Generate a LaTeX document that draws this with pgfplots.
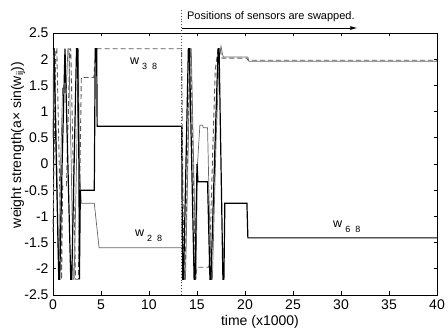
\documentclass[border=0pt]{standalone}
\usepackage{pgfplots}
\pgfplotsset{compat=1.18}
\usepackage{fontspec}
\setmainfont{Liberation Sans}
\usetikzlibrary{arrows.meta,calc}

\begin{document}
\begin{tikzpicture}
\begin{axis}[
 scale only axis, width=384pt, height=262pt,
 xmin=0, xmax=40, ymin=-2.5, ymax=2.5,
 xtick={0,5,10,15,20,25,30,35,40},
 ytick={-2.5,-2,-1.5,-1,-0.5,0,0.5,1,1.5,2,2.5},
 tick align=inside, major tick length=3.5pt,
 tick style={black, line width=0.6pt},
 axis line style={line width=0.8pt},
 clip=false,
 /pgf/number format/assume math mode=true,
 tick label style={font=\fontsize{14}{16}\selectfont},
 xticklabel style={yshift=-1pt},
 yticklabel style={xshift=-1pt},
 xlabel={time (x1000)},
 ylabel={weight strength(a× sin(w\textsubscript{ij}))},
 label style={font=\fontsize{14}{16}\selectfont},
 xlabel style={at={(axis description cs:0.539,-0.103)},anchor=center},
 ylabel style={at={(axis description cs:-0.091,0.573)},anchor=center},
]
% dashed series
\addplot[black!65, line width=0.9pt, dash pattern=on 5pt off 3pt] coordinates {
(0,-1.3)(0.1,0)(0.3,2.2)(0.4,2.2)(0.65,0)(0.9,-2.2)(1.0,-0.42)(1.4,-0.42)(1.6,1.0)(1.75,2.2)(1.85,2.2)(2.1,0)(2.35,-2.2)(2.45,-2.2)(2.65,-2.2)(2.95,1.65)(4.25,1.65)(4.45,2.2)(13.4,2.2)
(13.5,0)(13.65,-2.2)(13.75,-2.2)(14.0,0)(14.25,2.2)(14.35,2.2)(14.6,0)(14.85,-2.2)(15.0,-1.97)(16.2,-1.97)(16.3,-1.9)(16.6,0)(16.9,1.8)(17.2,2.2)(17.4,2.2)(17.6,2.02)(20.2,2.02)(20.3,1.98)(40,1.98)};
% thin gray series (w28)
\addplot[black!60, line width=0.7pt] coordinates {
(0,0.5)(0.05,2.2)(0.15,2.2)(0.4,0)(0.6,-2.2)(0.8,0)(1.0,1.45)(1.4,1.45)(1.55,2.2)(1.65,2.2)(1.9,0)(2.1,-2.2)(2.2,-2.2)(2.45,0)(2.65,2.2)(2.75,0)(2.95,-0.75)(4.3,-0.75)(4.8,-1.6)(13.4,-1.6)
(13.5,-1.7)(13.7,-2.2)(13.8,-2.2)(14.05,0)(14.3,2.2)(14.4,2.2)(14.65,0)(14.9,-2.2)(15.05,0)(15.3,0.74)(15.6,0.74)(15.65,0.69)(16.1,0.69)(16.3,-1.0)(16.5,-2.2)(16.6,-2.2)(17.0,0.5)(17.3,2.0)(17.5,2.25)(17.65,2.1)(17.75,2.04)(20.3,2.04)(20.4,1.96)(40,1.96)};
% thick black series
\addplot[black, line width=1.2pt] coordinates {
(0,2.2)(0.1,2.2)(0.35,0)(0.6,-2.2)(0.7,-2.2)(0.95,0)(1.25,2.2)(1.55,0)(1.85,-2.2)(1.95,-2.2)(2.2,0)(2.45,2.2)(2.55,2.2)(2.7,0)(2.75,-2.2)(2.85,-0.5)(4.3,-0.5)(4.4,2.2)(4.55,2.2)(4.6,0.72)(13.4,0.72)
(13.5,-2.2)(13.6,-2.2)(13.85,0)(14.1,2.2)(14.2,2.2)(14.45,0)(14.7,-2.2)(14.8,-2.2)(15.0,0)(15.1,-0.34)(16.1,-0.34)(16.35,-2.2)(16.45,-2.2)(16.9,0.5)(17.2,2.2)(17.3,2.2)(17.5,0)(17.7,-2.2)(17.8,-2.2)(17.9,-0.75)(20.2,-0.75)(20.3,-1.41)(40,-1.41)};
% swap marker
\addplot[black!70, dotted, line width=0.9pt] coordinates {(13.4,-2.5)(13.4,2.95)};
\draw[black, line width=0.8pt, -{Latex[length=7pt,width=4pt]}] (axis cs:13.4,2.595) -- (axis cs:31.7,2.595);
\node[anchor=base west, inner sep=0pt, font=\fontsize{11}{13}\selectfont] at (axis cs:13.95,2.75) {Positions of sensors are swapped.};
% weight labels
\node[anchor=base west, inner sep=0pt, font=\fontsize{12.5}{14}\selectfont] at (axis cs:8.02,1.89) {w\hspace{3pt}\raisebox{-5pt}{\fontsize{9}{10}\selectfont 3\hspace{5pt}8}};
\node[anchor=base west, inner sep=0pt, font=\fontsize{12.5}{14}\selectfont] at (axis cs:8.54,-1.39) {w\hspace{3pt}\raisebox{-5pt}{\fontsize{9}{10}\selectfont 2\hspace{5pt}8}};
\node[anchor=base west, inner sep=0pt, font=\fontsize{12.5}{14}\selectfont] at (axis cs:29.17,-1.22) {w\hspace{3pt}\raisebox{-5pt}{\fontsize{9}{10}\selectfont 6\hspace{5pt}8}};
\end{axis}
\pgfresetboundingbox
\useasboundingbox ($(current axis.south west)+(-53pt,-37pt)$) rectangle ($(current axis.north east)+(11pt,33pt)$);
\end{tikzpicture}
\end{document}
